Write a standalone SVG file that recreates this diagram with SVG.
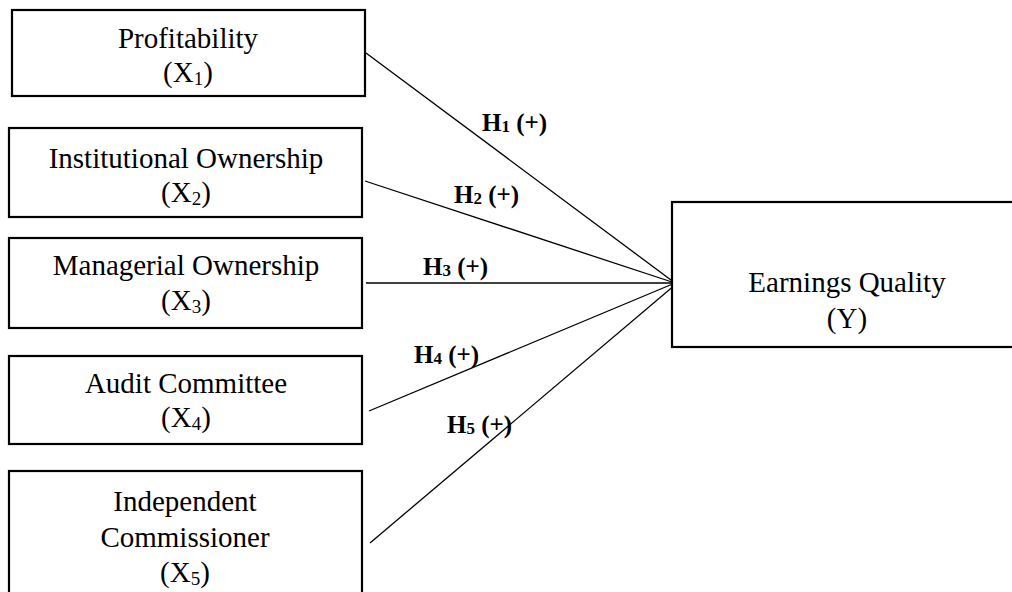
<svg xmlns="http://www.w3.org/2000/svg" width="1012" height="592" viewBox="0 0 1012 592">
  <style>
    .box { fill: #ffffff; stroke: #000000; stroke-width: 2.2; }
    .lbl { font-family: "Liberation Serif", "Times New Roman", serif; font-size: 29px; fill: #000000; text-anchor: middle; }
    .hyp { font-family: "Liberation Serif", "Times New Roman", serif; font-size: 25px; font-weight: bold; fill: #000000; }
    .sub { font-size: 19px; }
    .hsub { font-size: 17px; }
    .conn line { stroke: #000000; stroke-width: 1.3; fill: none; }
  </style>
  <rect width="1012" height="592" fill="#ffffff"/>

  <!-- connectors: each predictor into the outcome box -->
  <g id="connectors" class="conn">
    <line x1="366" y1="53" x2="675" y2="283"/>
    <line x1="365" y1="181" x2="675" y2="283"/>
    <line x1="366" y1="283" x2="675" y2="283"/>
    <line x1="369" y1="411" x2="675" y2="283"/>
    <line x1="370" y1="543" x2="682" y2="279"/>
  </g>

  <!-- hypothesis labels -->
  <g id="hypotheses">
    <text class="hyp" x="482" y="131">H<tspan class="hsub" dy="1">1</tspan><tspan dy="-1"> (+)</tspan></text>
    <text class="hyp" x="454" y="203">H<tspan class="hsub" dy="1">2</tspan><tspan dy="-1"> (+)</tspan></text>
    <text class="hyp" x="423" y="275">H<tspan class="hsub" dy="1">3</tspan><tspan dy="-1"> (+)</tspan></text>
    <text class="hyp" x="414" y="363">H<tspan class="hsub" dy="1">4</tspan><tspan dy="-1"> (+)</tspan></text>
    <text class="hyp" x="447" y="433">H<tspan class="hsub" dy="1">5</tspan><tspan dy="-1"> (+)</tspan></text>
  </g>

  <g id="node-x1">
    <rect class="box" x="12" y="10" width="353" height="86"/>
    <text class="lbl" x="188" y="48">Profitability</text>
    <text class="lbl" x="188" y="82">(X<tspan class="sub" dy="3">1</tspan><tspan dy="-3">)</tspan></text>
  </g>

  <g id="node-x2">
    <rect class="box" x="9" y="128" width="353" height="89"/>
    <text class="lbl" x="186" y="168">Institutional Ownership</text>
    <text class="lbl" x="186" y="202">(X<tspan class="sub" dy="3">2</tspan><tspan dy="-3">)</tspan></text>
  </g>

  <g id="node-x3">
    <rect class="box" x="9" y="238" width="353" height="90"/>
    <text class="lbl" x="186" y="275">Managerial Ownership</text>
    <text class="lbl" x="186" y="310">(X<tspan class="sub" dy="3">3</tspan><tspan dy="-3">)</tspan></text>
  </g>

  <g id="node-x4">
    <rect class="box" x="9" y="356" width="353" height="88"/>
    <text class="lbl" x="186" y="393">Audit Committee</text>
    <text class="lbl" x="186" y="427">(X<tspan class="sub" dy="3">4</tspan><tspan dy="-3">)</tspan></text>
  </g>

  <g id="node-x5">
    <rect class="box" x="9" y="471" width="353" height="140"/>
    <text class="lbl" x="185" y="511">Independent</text>
    <text class="lbl" x="185" y="547">Commissioner</text>
    <text class="lbl" x="185" y="582">(X<tspan class="sub" dy="3">5</tspan><tspan dy="-3">)</tspan></text>
  </g>

  <g id="node-y">
    <rect class="box" x="672" y="202" width="350" height="145"/>
    <text class="lbl" x="847" y="292">Earnings Quality</text>
    <text class="lbl" x="847" y="328">(Y)</text>
  </g>
</svg>
